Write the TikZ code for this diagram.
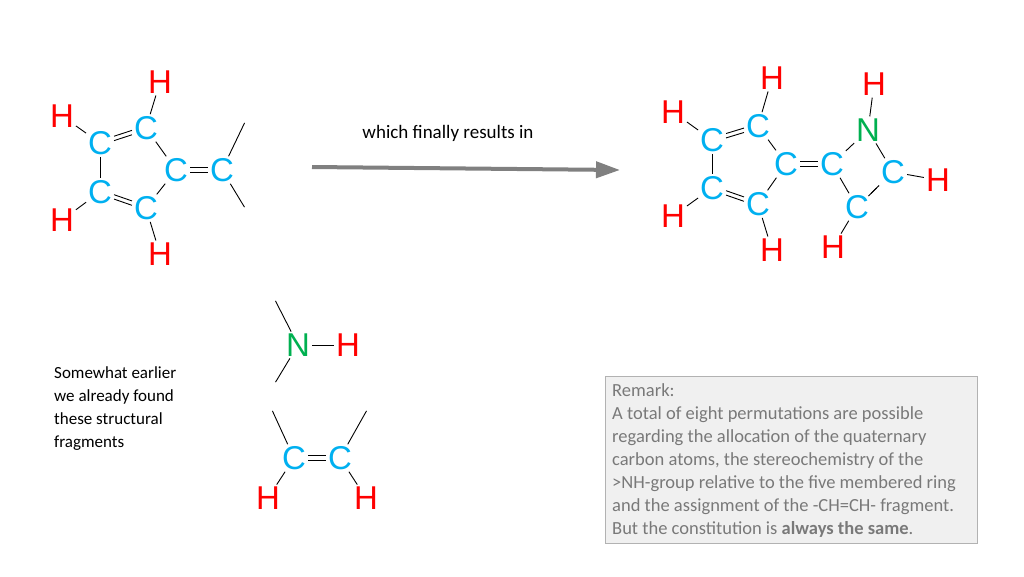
\documentclass[tikz,border=0pt]{standalone}
\usepackage{fontspec}
\usetikzlibrary{arrows.meta}
\setmainfont{Carlito}
\newfontfamily\atomfont{Liberation Sans}
\definecolor{cblue}{RGB}{0,176,240}
\definecolor{hred}{RGB}{255,0,0}
\definecolor{ngreen}{RGB}{0,176,80}
\tikzset{
  atomC/.style={text=cblue, font=\atomfont\fontsize{33}{33}\selectfont, inner sep=1pt},
  atomH/.style={text=hred, font=\atomfont\fontsize{33}{33}\selectfont, inner sep=1pt},
  atomN/.style={text=ngreen, font=\atomfont\fontsize{33}{33}\selectfont, inner sep=1pt},
  bond/.style={line width=0.9pt, shorten >=1pt, shorten <=1pt},
}
\newcommand{\dbond}[2]{%
  \draw[bond, transform canvas={shift={(0,2.2pt)}}] (#1) -- (#2);
  \draw[bond, transform canvas={shift={(0,-2.2pt)}}] (#1) -- (#2);}
\begin{document}
\begin{tikzpicture}[x=1pt,y=-1pt]
  \useasboundingbox (0,0) rectangle (1024,576);

  % left molecule
  \node[atomH] (lh1) at (160,82) {H};
  \node[atomH] (lh2) at (62,116) {H};
  \node[atomC] (lc1) at (100,143) {C};
  \node[atomC] (lc2) at (146,128) {C};
  \node[atomC] (lc3) at (176,170) {C};
  \node[atomC] (lc4) at (222,170) {C};
  \node[atomC] (lc5) at (100,192) {C};
  \node[atomC] (lc6) at (146,208) {C};
  \node[atomH] (lh3) at (62,220) {H};
  \node[atomH] (lh4) at (160,254) {H};
  \coordinate (lt1) at (245,122);
  \coordinate (lt2) at (245,208);

  \draw[bond] (lh1) -- (lc2);
  \draw[bond] (lh2) -- (lc1);
  \dbond{lc1}{lc2}
  \draw[bond] (lc2) -- (lc3);
  \draw[bond] (lc1) -- (lc5);
  \dbond{lc5}{lc6}
  \draw[bond] (lc6) -- (lc3);
  \dbond{lc3}{lc4}
  \draw[bond] (lc4) -- (lt1);
  \draw[bond] (lc4) -- (lt2);
  \draw[bond] (lh3) -- (lc5);
  \draw[bond] (lc6) -- (lh4);

  % arrow
  \coordinate (a1) at (312,167);
  \coordinate (a2) at (620,170);
  \draw[line width=4pt, gray, -{Triangle[length=24pt,width=16pt]}] (a1) -- (a2);
  \node[font=\fontsize{19}{19}\selectfont] (alab) at (448,133) {which finally results in};

  % right molecule
  \node[atomH] (rh1) at (772,78) {H};
  \node[atomH] (rh2) at (673,112) {H};
  \node[atomC] (rc1) at (712,140) {C};
  \node[atomC] (rc2) at (758,126) {C};
  \node[atomC] (rc3) at (786,164) {C};
  \node[atomC] (rc4) at (832,164) {C};
  \node[atomN] (rn) at (868,130) {N};
  \node[atomH] (rh3) at (874,84) {H};
  \node[atomC] (rc5) at (893,172) {C};
  \node[atomH] (rh4) at (938,180) {H};
  \node[atomC] (rc6) at (857,207) {C};
  \node[atomC] (rc7) at (712,188) {C};
  \node[atomC] (rc8) at (758,204) {C};
  \node[atomH] (rh5) at (673,216) {H};
  \node[atomH] (rh6) at (772,250) {H};
  \node[atomH] (rh7) at (833,247) {H};

  \draw[bond] (rh1) -- (rc2);
  \draw[bond] (rh2) -- (rc1);
  \dbond{rc1}{rc2}
  \draw[bond] (rc2) -- (rc3);
  \draw[bond] (rc1) -- (rc7);
  \dbond{rc7}{rc8}
  \draw[bond] (rc8) -- (rc3);
  \dbond{rc3}{rc4}
  \draw[bond] (rc4) -- (rn);
  \draw[bond] (rn) -- (rh3);
  \draw[bond] (rn) -- (rc5);
  \draw[bond] (rc5) -- (rh4);
  \draw[bond] (rc6) -- (rc4);
  \draw[bond] (rc6) -- (rh7);
  \draw[bond] (rc5) -- (rc6);
  \draw[bond, transform canvas={shift={(-2.5pt,-2.5pt)}}] (rc5) -- (rc6);
  \draw[bond] (rc7) -- (rh5);
  \draw[bond] (rc8) -- (rh6);

  % fragments
  \node[atomN] (fn) at (298,345) {N};
  \node[atomH] (fh1) at (348,345) {H};
  \coordinate (ft1) at (275,300);
  \coordinate (ft2) at (275,383);
  \draw[bond] (fn) -- (fh1);
  \draw[bond] (fn) -- (ft1);
  \draw[bond] (fn) -- (ft2);

  \node[atomC] (fc1) at (294,458) {C};
  \node[atomC] (fc2) at (340,458) {C};
  \node[atomH] (fh2) at (268,498) {H};
  \node[atomH] (fh3) at (366,498) {H};
  \coordinate (ft3) at (272,410);
  \coordinate (ft4) at (367,410);
  \dbond{fc1}{fc2}
  \draw[bond] (fc1) -- (ft3);
  \draw[bond] (fc2) -- (ft4);
  \draw[bond] (fc1) -- (fh2);
  \draw[bond] (fc2) -- (fh3);

  % texts
  \node[anchor=north west, align=left, inner sep=0pt,
        font=\fontsize{17}{23}\selectfont] (ftext) at (54,366)
    {Somewhat earlier\\we already found\\these structural\\fragments};

  \node[draw=gray!60, line width=1pt, fill=gray!12, anchor=north west,
        minimum width=372pt, minimum height=167pt, inner sep=0pt] (rbox) at (605,376) {};
  \node[anchor=north west, align=left, inner sep=0pt, text=gray!95!black,
        font=\fontsize{18.5}{23}\selectfont] (rtext) at (612,383)
    {Remark:\\A total of eight permutations are possible\\regarding the allocation of the quaternary\\carbon atoms, the stereochemistry of the\\>NH-group relative to the five membered ring\\and the assignment of the -CH=CH- fragment.\\But the constitution is \textbf{always the same}.};
\end{tikzpicture}
\end{document}
